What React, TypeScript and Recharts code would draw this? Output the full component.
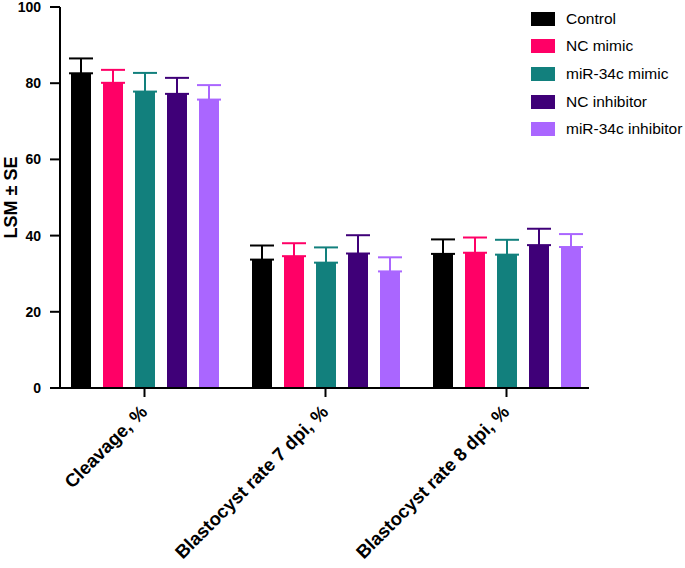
import React from 'react';
import { BarChart, Bar, XAxis, YAxis, ErrorBar } from 'recharts';

const categories = ['Cleavage, %', 'Blastocyst rate 7 dpi, %', 'Blastocyst rate 8 dpi, %'];
const seriesNames = ['Control', 'NC mimic', 'miR-34c mimic', 'NC inhibitor', 'miR-34c inhibitor'];
const seriesColors = ['#000000', '#FF0066', '#12807D', '#3F0078', '#AA66FF'];
const yTicks = [0, 20, 40, 60, 80, 100];

const controlValues = [82.6, 33.7, 35.2];
const ncMimicValues = [80.1, 34.6, 35.5];
const mirMimicValues = [77.8, 32.9, 35.0];
const ncInhibitorValues = [77.2, 35.3, 37.5];
const mirInhibitorValues = [75.7, 30.6, 37.0];

const controlSE = [3.9, 3.7, 3.8];
const ncMimicSE = [3.4, 3.4, 4.0];
const mirMimicSE = [4.9, 4.0, 3.9];
const ncInhibitorSE = [4.2, 4.8, 4.3];
const mirInhibitorSE = [3.8, 3.7, 3.4];

const seriesValues = [controlValues, ncMimicValues, mirMimicValues, ncInhibitorValues, mirInhibitorValues];
const seriesSE = [controlSE, ncMimicSE, mirMimicSE, ncInhibitorSE, mirInhibitorSE];

const data = categories.map((name, i) => {
  const row: any = { name };
  seriesValues.forEach((vals, s) => {
    row['s' + s] = vals[i];
    row['e' + s] = [0, seriesSE[s][i]];
  });
  return row;
});

const FONT = 'Arial, "Liberation Sans", Helvetica, sans-serif';

const XTick = (props: any) => {
  const { x, y, payload } = props;
  return (
    <g transform={`translate(${x + 4},${y + 14})`}>
      <text
        x={0}
        y={0}
        textAnchor="end"
        transform="rotate(-45)"
        fontFamily={FONT}
        fontWeight="bold"
        fontSize={18.5}
        fill="#000"
      >
        {payload.value}
      </text>
    </g>
  );
};

export default function App() {
  return (
    <div style={{ position: 'absolute', left: 0, top: 0, width: 685, height: 568, background: '#fff' }}>
      <BarChart
        width={685}
        height={568}
        data={data}
        margin={{ top: 7, right: 96, bottom: 0, left: 0 }}
        barSize={20}
        barGap={12}
      >
        <XAxis
          dataKey="name"
          height={180}
          tick={<XTick />}
          tickSize={9}
          tickLine={{ stroke: '#000', strokeWidth: 2 }}
          axisLine={{ stroke: '#000', strokeWidth: 2 }}
          interval={0}
          padding={{ left: -6, right: -8 }}
        />
        <YAxis
          width={60}
          domain={[0, 100]}
          ticks={yTicks}
          interval={0}
          tickSize={10}
          tickMargin={9}
          tickLine={{ stroke: '#000', strokeWidth: 2 }}
          axisLine={{ stroke: '#000', strokeWidth: 2 }}
          tick={{ fill: '#000', fontFamily: FONT, fontWeight: 'bold', fontSize: 14 }}
          label={{
            value: 'LSM ± SE',
            angle: -90,
            position: 'insideLeft',
            offset: 11,
            style: { fill: '#000', fontFamily: FONT, fontWeight: 'bold', fontSize: 18, textAnchor: 'middle' },
          }}
        />
        {seriesNames.map((n, s) => (
          <Bar key={n} dataKey={'s' + s} name={n} fill={seriesColors[s]} isAnimationActive={false}>
            <ErrorBar dataKey={'e' + s} width={12} stroke={seriesColors[s]} strokeWidth={2} direction="y" />
          </Bar>
        ))}
      </BarChart>
      <div style={{ position: 'absolute', left: 531, top: 5, fontFamily: FONT, fontSize: 15.5, color: '#000' }}>
        {seriesNames.map((n, s) => (
          <div key={n} style={{ display: 'flex', alignItems: 'center', height: 27.6 }}>
            <div style={{ width: 24, height: 14, background: seriesColors[s], marginRight: 11 }} />
            <span>{n}</span>
          </div>
        ))}
      </div>
    </div>
  );
}
